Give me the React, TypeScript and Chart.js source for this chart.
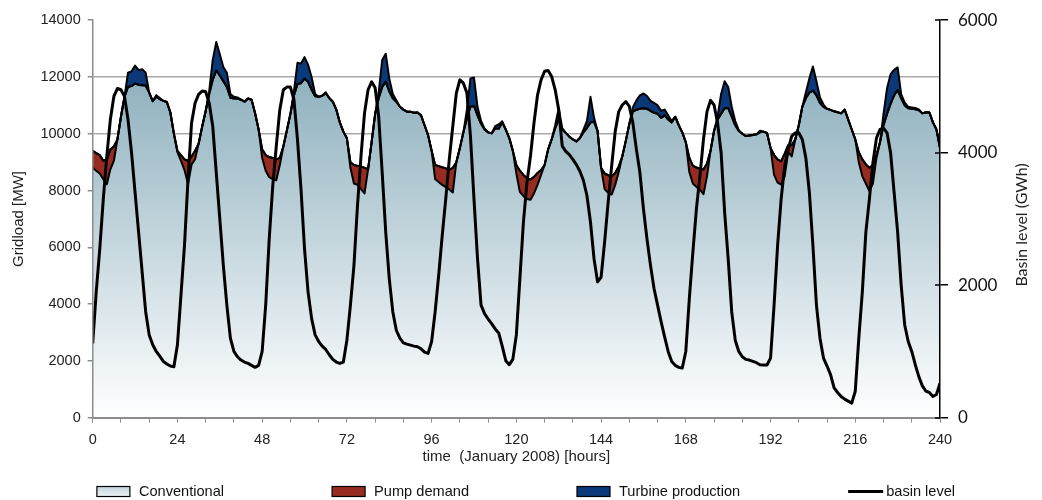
import { useEffect, useRef } from "react";
import { Chart, registerables } from "chart.js";

Chart.register(...registerables);

// Hourly time axis for the first ten days of January 2008
const HOURS = Array.from({ length: 241 }, (_, i) => i);

// Conventional generation [MW], one row per day
const CONVENTIONAL = [
  8800, 8700, 8600, 8400, 8220, 8750, 9050, 9800, 10600, 11300, 11650, 11680, 11770, 11720, 11710, 11700, 11450, 11150, 11300, 11220, 11160, 11120, 10750, 10000,
  9350, 9050, 8720, 8230, 8910, 9100, 9650, 10250, 10800, 11400, 11900, 12230, 12050, 11850, 11650, 11270, 11240, 11240, 11200, 11130, 11240, 11200, 10720, 10150,
  9150, 8700, 8470, 8400, 8360, 8900, 9550, 10120, 10700, 11350, 11750, 11780, 11940, 11830, 11550, 11320, 11300, 11340, 11420, 11260, 11130, 10850, 10400, 10075,
  9840, 8800, 8250, 8200, 8050, 7900, 8750, 9700, 10700, 11250, 11650, 11830, 11500, 11250, 11130, 10950, 10850, 10780, 10780, 10740, 10750, 10650, 10300, 9950,
  9400, 8400, 8300, 8200, 8120, 8040, 7930, 9000, 9500, 10050, 10550, 10950, 10980, 10650, 10350, 10150, 10050, 10015, 10190, 10180, 10400, 10150, 9850, 9400,
  8600, 7950, 7800, 7700, 7680, 7900, 8200, 8550, 8900, 9450, 9800, 10200, 10500, 10150, 10030, 9900, 9800, 9730, 9850, 10050, 10200, 10400, 10420, 10100,
  8800, 8050, 7920, 7860, 8200, 8650, 9200, 9750, 10350, 10780, 10840, 10880, 10900, 10880, 10810, 10740, 10700, 10560, 10650, 10500, 10400, 10600, 10300, 10050,
  9700, 8650, 8250, 8130, 8030, 7870, 8500, 9400, 10100, 10500, 10700, 10900, 10900, 10600, 10300, 10100, 10000, 9920, 9940, 9960, 9980, 10050, 10070, 10030,
  9500, 8550, 8280, 8210, 8500, 9350, 9200, 9800, 10300, 10950, 11250, 11450, 11520, 11350, 11080, 10950, 10880, 10840, 10790, 10760, 10720, 10850, 10500, 10150,
  9800, 9000, 8500, 8250, 7980, 8250, 9150, 9700, 10300, 10700, 11050, 11350, 11540, 11250, 11000, 10900, 10880, 10860, 10830, 10720, 10760, 10750, 10400, 10150, 9500,
];

// Pump demand [MW], stacked on top of conventional generation
const PUMP = [
  600, 620, 650, 650, 880, 700, 500, 0, 0, 0, 0, 0, 0, 0, 0, 0, 0, 0, 0, 0, 0, 0, 0, 0,
  50, 200, 380, 820, 290, 300, 0, 0, 0, 0, 0, 0, 0, 0, 0, 0, 0, 0, 0, 0, 0, 0, 0, 0,
  300, 550, 710, 750, 740, 250, 0, 0, 0, 0, 0, 0, 0, 0, 0, 0, 0, 0, 0, 0, 0, 0, 0, 0,
  0, 200, 650, 670, 800, 900, 0, 0, 0, 0, 0, 0, 0, 0, 0, 0, 0, 0, 0, 0, 0, 0, 0, 0,
  0, 500, 560, 620, 660, 700, 870, 0, 0, 0, 0, 0, 0, 0, 0, 0, 0, 0, 0, 0, 0, 0, 0, 0,
  300, 750, 750, 740, 710, 580, 420, 170, 0, 0, 0, 0, 0, 0, 0, 0, 0, 0, 0, 0, 0, 0, 0, 0,
  0, 550, 620, 640, 420, 200, 0, 0, 0, 0, 0, 0, 0, 0, 0, 0, 0, 0, 0, 0, 0, 0, 0, 0,
  0, 500, 630, 680, 740, 870, 450, 0, 0, 0, 0, 0, 0, 0, 0, 0, 0, 0, 0, 0, 0, 0, 0, 0,
  0, 700, 820, 820, 800, 250, 400, 0, 0, 0, 0, 0, 0, 0, 0, 0, 0, 0, 0, 0, 0, 0, 0, 0,
  0, 350, 600, 670, 820, 650, 100, 0, 0, 0, 0, 0, 0, 0, 0, 0, 0, 0, 0, 0, 0, 0, 0, 0, 0,
];

// Turbine production [MW], stacked on top
const TURBINE = [
  0, 0, 0, 0, 0, 0, 0, 0, 0, 0, 500, 520, 630, 520, 560, 450, 0, 0, 60, 40, 0, 0, 0, 0,
  0, 0, 0, 0, 0, 0, 0, 0, 0, 100, 700, 1000, 750, 500, 500, 130, 60, 40, 0, 0, 0, 0, 0, 0,
  0, 0, 0, 0, 0, 0, 0, 0, 0, 150, 750, 690, 760, 600, 450, 80, 0, 0, 40, 0, 0, 0, 0, 0,
  0, 0, 0, 0, 0, 0, 0, 0, 0, 200, 950, 990, 450, 150, 50, 0, 0, 0, 0, 0, 0, 0, 0, 0,
  0, 0, 0, 0, 0, 0, 0, 0, 0, 0, 300, 1000, 1000, 300, 100, 30, 0, 0, 80, 150, 40, 0, 0, 0,
  0, 0, 0, 0, 0, 0, 0, 0, 0, 0, 0, 100, 400, 50, 0, 0, 0, 0, 0, 100, 250, 900, 150, 0,
  0, 0, 0, 0, 0, 0, 0, 0, 0, 150, 335, 470, 520, 450, 350, 350, 300, 250, 200, 150, 50, 0, 0, 0,
  0, 0, 0, 0, 0, 0, 0, 0, 0, 100, 700, 950, 750, 350, 150, 30, 0, 0, 0, 0, 0, 60, 0, 0,
  0, 0, 0, 0, 0, 0, 0, 0, 0, 0, 200, 500, 850, 500, 200, 80, 0, 0, 0, 0, 0, 0, 0, 0,
  0, 0, 0, 0, 0, 0, 0, 0, 400, 900, 1050, 900, 800, 150, 100, 50, 50, 50, 30, 0, 0, 0, 0, 0, 0,
];

// Basin level [GWh], right axis
const BASIN = [
  1120, 1900, 2550, 3300, 3950, 4500, 4850, 4970, 4950, 4850, 4500, 4000, 3400, 2800, 2200, 1600, 1250, 1100, 1000, 930, 850, 810, 780, 770,
  1100, 1850, 2600, 3600, 4450, 4750, 4880, 4930, 4920, 4750, 4400, 3700, 3000, 2300, 1700, 1200, 1000, 920, 870, 840, 820, 790, 760, 790,
  1000, 1700, 2700, 3500, 4100, 4650, 4950, 4990, 4990, 4800, 4200, 3450, 2550, 1900, 1500, 1250, 1150, 1080, 1030, 950, 880, 840, 820, 840,
  1170, 1700, 2300, 3200, 3950, 4600, 4950, 5070, 4980, 4550, 3700, 2800, 2100, 1600, 1320, 1200, 1130, 1110, 1095, 1080, 1070, 1040, 990, 970,
  1150, 1600, 2150, 2750, 3300, 3900, 4400, 4900, 5100, 5050, 4900, 4250, 3300, 2400, 1700, 1570, 1490, 1420, 1340, 1280, 1080, 860, 800, 880,
  1250, 2100, 2950, 3550, 3950, 4450, 4870, 5100, 5230, 5240, 5150, 4950, 4650, 4100, 4020, 3970, 3900, 3820, 3720, 3580, 3350, 2950, 2400, 2050,
  2120, 2650, 3250, 3800, 4320, 4620, 4720, 4770, 4700, 4450, 4050, 3700, 3150, 2700, 2300, 1950, 1700, 1450, 1220, 1000, 850, 790, 760, 750,
  1000, 1800, 2500, 3150, 3650, 4200, 4620, 4790, 4720, 4450, 4000, 3100, 2400, 1600, 1170, 1000, 920, 880, 870, 850, 830, 800, 795, 795,
  900, 1700, 2600, 3300, 3800, 4050, 4250, 4300, 4300, 4200, 3920, 3400, 2600, 1700, 1200, 900, 780, 650, 450, 380, 320, 280, 250, 220,
  400, 1200, 1900, 2800, 3300, 3850, 4220, 4350, 4370, 4300, 4000, 3400, 2800, 2000, 1400, 1150, 1000, 800, 620, 480, 400, 380, 320, 350, 520,
];

const SERIES_LABELS = ["Conventional", "Pump demand", "Turbine production", "basin level"];
const X_TITLE = "time  (January 2008) [hours]";
const Y_TITLE = "Gridload [MW]";
const Y1_TITLE = "Basin level (GWh)";
const X_LABEL_EVERY = 24;
const VISIBLE_GRID = [10000, 12000];

const SANS = "'Liberation Sans', Arial, sans-serif";
const ROUNDED = "Lato, 'Open Sans', sans-serif";
const RED = "#952b21";
const BLUE = "#0b3878";
const AXIS_GRAY = "#8c8c8c";

const toPoints = (values: number[]) => HOURS.map((h, i) => ({ x: h, y: values[i] }));
const plainNumber = (v: any) => String(v);

const conventionalFill = (c: any) => {
  const chart = c.chart;
  const area = chart.chartArea;
  if (!area || !chart.scales.y) return "#b8cfd8";
  const top = chart.scales.y.getPixelForValue(12300);
  const g = chart.ctx.createLinearGradient(0, top, 0, area.bottom);
  g.addColorStop(0, "#8cafbd");
  g.addColorStop(1, "#ffffff");
  return g;
};

// Legend row, right-axis title and the inner half of the right-axis ticks
const decorPlugin = {
  id: "decor",
  afterDraw(chart: any) {
    const { ctx, chartArea } = chart;
    const y1 = chart.scales.y1;

    ctx.save();
    ctx.strokeStyle = "#000";
    ctx.lineWidth = 1.5;
    y1.ticks.forEach((t: any) => {
      const y = Math.round(y1.getPixelForValue(t.value));
      ctx.beginPath();
      ctx.moveTo(chartArea.right - 5, y);
      ctx.lineTo(chartArea.right, y);
      ctx.stroke();
    });

    ctx.fillStyle = "#222";
    ctx.font = `16px ${ROUNDED}`;
    ctx.textAlign = "center";
    ctx.textBaseline = "middle";
    ctx.translate(1022, (chartArea.top + chartArea.bottom) / 2 + 6);
    ctx.rotate(-Math.PI / 2);
    ctx.fillText(Y1_TITLE, 0, 0);
    ctx.restore();

    ctx.save();
    ctx.font = `14.6px ${SANS}`;
    const kinds = ["box", "box", "box", "line"];
    const widths = SERIES_LABELS.map(
      (label, i) => (kinds[i] === "line" ? 38 : 42) + ctx.measureText(label).width
    );
    const gap = 108;
    const total = widths.reduce((a, b) => a + b, 0) + gap * (widths.length - 1);
    let x = 526 - total / 2;
    const cy = 491.5;
    SERIES_LABELS.forEach((label, i) => {
      let textX;
      if (kinds[i] === "line") {
        ctx.strokeStyle = "#000";
        ctx.lineWidth = 3;
        ctx.beginPath();
        ctx.moveTo(x, cy);
        ctx.lineTo(x + 35, cy);
        ctx.stroke();
        textX = x + 38;
      } else {
        let fill: any = i === 1 ? RED : BLUE;
        if (i === 0) {
          const g = ctx.createLinearGradient(0, cy - 5, 0, cy + 5);
          g.addColorStop(0, "#bfd3db");
          g.addColorStop(1, "#eef4f6");
          fill = g;
        }
        ctx.fillStyle = fill;
        ctx.fillRect(x, cy - 5, 33, 10);
        ctx.strokeStyle = "#000";
        ctx.lineWidth = 1.2;
        ctx.strokeRect(x, cy - 5, 33, 10);
        textX = x + 42;
      }
      ctx.fillStyle = "#111";
      ctx.textAlign = "left";
      ctx.textBaseline = "middle";
      ctx.fillText(label, textX, cy);
      x += widths[i] + gap;
    });
    ctx.restore();
  },
};

export default function App() {
  const canvasRef = useRef<HTMLCanvasElement>(null);

  useEffect(() => {
    const canvas = canvasRef.current;
    if (!canvas) return;

    const areaLine = { borderColor: "#000", borderWidth: 2, pointRadius: 0, tension: 0, borderJoinStyle: "round" as const };

    // Stacking follows `order`: conventional at the bottom, then pump, then turbine.
    const chart = new Chart(canvas, {
      type: "line",
      data: {
        datasets: [
          { label: SERIES_LABELS[0], data: toPoints(CONVENTIONAL), yAxisID: "y", fill: "origin", backgroundColor: conventionalFill, order: 1, ...areaLine },
          { label: SERIES_LABELS[1], data: toPoints(PUMP), yAxisID: "y", fill: "-1", backgroundColor: RED, order: 2, ...areaLine },
          { label: SERIES_LABELS[2], data: toPoints(TURBINE), yAxisID: "y", fill: "-1", backgroundColor: BLUE, order: 3, ...areaLine },
          {
            label: SERIES_LABELS[3], data: toPoints(BASIN), yAxisID: "y1", fill: false,
            borderColor: "#000", borderWidth: 3, pointRadius: 0, tension: 0, borderJoinStyle: "round", order: 0,
          },
        ],
      },
      options: {
        responsive: false,
        devicePixelRatio: 1,
        animation: false,
        events: [],
        layout: { padding: { top: 18, bottom: 32.3, left: 0, right: 0 } },
        plugins: {
          legend: { display: false },
          tooltip: { enabled: false },
          filler: { drawTime: "beforeDatasetsDraw" },
        } as any,
        scales: {
          x: {
            type: "linear",
            min: 0,
            max: 240,
            afterFit: (s: any) => { s.height = 50; },
            ticks: {
              stepSize: 8,
              autoSkip: false,
              maxRotation: 0,
              padding: 9,
              color: "#222",
              font: { family: SANS, size: 14.5 },
              callback: (v: any) => (Number(v) % X_LABEL_EVERY === 0 ? String(v) : ""),
            },
            grid: { drawOnChartArea: false, tickLength: 5, tickColor: AXIS_GRAY, lineWidth: 1 },
            border: { color: AXIS_GRAY, width: 2, z: 1 } as any,
            title: { display: true, text: X_TITLE, color: "#222", font: { family: SANS, size: 15 }, padding: { top: 4, bottom: 2 } },
          },
          y: {
            position: "left",
            stacked: true,
            min: 0,
            max: 14000,
            afterFit: (s: any) => { s.width = 92.7; },
            ticks: { stepSize: 2000, padding: 7, color: "#222", font: { family: SANS, size: 14.5 }, callback: plainNumber },
            grid: {
              color: (c: any) => (VISIBLE_GRID.includes(c.tick?.value) ? "#a9a9a9" : "rgba(0,0,0,0)"),
              lineWidth: 1.5,
              tickLength: 5,
              tickColor: AXIS_GRAY,
            },
            border: { color: AXIS_GRAY, width: 1.5, z: 1 } as any,
            title: { display: true, text: Y_TITLE, color: "#222", font: { family: SANS, size: 15 }, padding: { top: 10, bottom: 4 } },
          },
          y1: {
            position: "right",
            min: 0,
            max: 6000,
            afterFit: (s: any) => { s.width = 102; },
            ticks: { stepSize: 2000, padding: 10, color: "#111", font: { family: ROUNDED, size: 17 }, callback: plainNumber },
            grid: { drawOnChartArea: false, tickLength: 8, tickColor: "#000", lineWidth: 1.5 },
            border: { color: "#000", width: 1.5, z: 1 } as any,
          },
        },
      },
      plugins: [decorPlugin],
    });

    return () => chart.destroy();
  }, []);

  return (
    <div style={{ position: "fixed", left: 0, top: 0, width: 1042, height: 500, background: "#fff" }}>
      <canvas ref={canvasRef} width={1042} height={500} style={{ display: "block", width: 1042, height: 500 }} />
    </div>
  );
}
